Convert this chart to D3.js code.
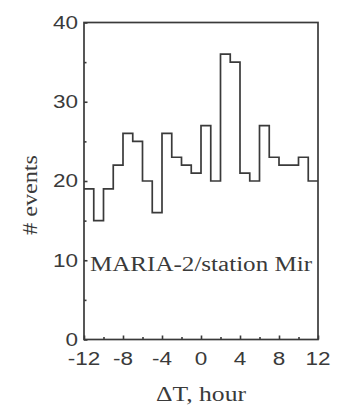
<!DOCTYPE html>
<html>
<head>
<meta charset="utf-8">
<script src="https://cdn.jsdelivr.net/npm/d3@7"></script>
<style>
  body { margin: 0; background: #fff; }
</style>
</head>
<body>
<div id="app"></div>
<script>
// one bin per hour, -12 .. 12
const binStart = [-12,-11,-10,-9,-8,-7,-6,-5,-4,-3,-2,-1,0,1,2,3,4,5,6,7,8,9,10,11];
const counts   = [19,15,19,22,26,25,20,16,26,23,22,21,27,20,36,35,21,20,27,23,22,22,23,20];
const xTicks = [-12,-8,-4,0,4,8,12];
const xMinor = [-10,-6,-2,2,6,10];
const yTicks = [0,10,20,30,40];
const yMinor = [5,15,25,35];

const w = 339, h = 409;
const padL = 84, padR = 318, padT = 22.5, padB = 339.5;
const ink = "#3a3a3a";
const stretch = 1.25; // the figure is a bit wider than tall
const serif = "'Liberation Serif', 'Times New Roman', serif";

const svg = d3.select("#app")
  .append("svg")
  .attr("width", w)
  .attr("height", h)
  .style("background-color", "#fff");

const x = d3.scaleLinear().domain([-12, 12]).range([padL, padR]);
const y = d3.scaleLinear().domain([0, 40]).range([padB, padT]);

// histogram as a step line
const pts = binStart.map((b, i) => [b, counts[i]]);
pts.push([12, counts[counts.length - 1]]);
const line = d3.line()
  .x(d => x(d[0]))
  .y(d => y(d[1]))
  .curve(d3.curveStepAfter);

svg.append("path")
  .attr("d", line(pts))
  .attr("fill", "none")
  .attr("stroke", ink)
  .attr("stroke-width", 1.7);

// frame
svg.append("rect")
  .attr("x", x(-12))
  .attr("y", y(40))
  .attr("width", x(12) - x(-12))
  .attr("height", y(0) - y(40))
  .attr("fill", "none")
  .attr("stroke", ink)
  .attr("stroke-width", 1.7);

// inner ticks
const xAxis = d3.axisTop(x).tickValues(xTicks).tickSize(4).tickFormat("");
const xAxisMinor = d3.axisTop(x).tickValues(xMinor).tickSize(2.5).tickFormat("");
const yAxis = d3.axisRight(y).tickValues(yTicks).tickSize(3.5).tickFormat("");
const yAxisMinor = d3.axisRight(y).tickValues(yMinor).tickSize(2.5).tickFormat("");

[[xAxis, "translate(0," + padB + ")"], [xAxisMinor, "translate(0," + padB + ")"],
 [yAxis, "translate(" + padL + ",0)"], [yAxisMinor, "translate(" + padL + ",0)"]].forEach(a => {
  const g = svg.append("g").attr("transform", a[1]).call(a[0]);
  g.select(".domain").remove();
  g.selectAll("line").attr("stroke", ink).attr("stroke-width", 1.6);
});

// tick labels
svg.append("g").selectAll("text")
  .data(xTicks)
  .enter()
  .append("text")
  .attr("transform", d => "translate(" + x(d) + "," + (padB + 25) + ") scale(" + stretch + ",1)")
  .attr("text-anchor", "middle")
  .style("font-family", "'Liberation Sans', Arial, sans-serif")
  .style("font-size", "18px")
  .attr("fill", ink)
  .text(d => d);

svg.append("g").selectAll("text")
  .data(yTicks)
  .enter()
  .append("text")
  .attr("transform", d => "translate(" + (padL - 6) + "," + y(d) + ") scale(" + stretch + ",1)")
  .attr("dy", "0.36em")
  .attr("text-anchor", "end")
  .style("font-family", "'Liberation Sans', Arial, sans-serif")
  .style("font-size", "18px")
  .attr("fill", ink)
  .text(d => d);

// axis titles
svg.append("text")
  .attr("x", x(0) - 45)
  .attr("y", 401)
  .attr("textLength", 90)
  .attr("lengthAdjust", "spacingAndGlyphs")
  .style("font-family", serif)
  .style("font-size", "20px")
  .attr("fill", ink)
  .text("ΔT, hour");

svg.append("text")
  .attr("transform", "translate(37,235) rotate(-90)")
  .attr("textLength", 80)
  .attr("lengthAdjust", "spacingAndGlyphs")
  .style("font-family", serif)
  .style("font-size", "20px")
  .attr("fill", ink)
  .text("# events");

// annotation
svg.append("text")
  .attr("x", 90)
  .attr("y", 271)
  .attr("textLength", 222)
  .attr("lengthAdjust", "spacingAndGlyphs")
  .style("font-family", serif)
  .style("font-size", "20px")
  .attr("fill", ink)
  .text("MARIA-2/station Mir");
</script>
</body>
</html>
